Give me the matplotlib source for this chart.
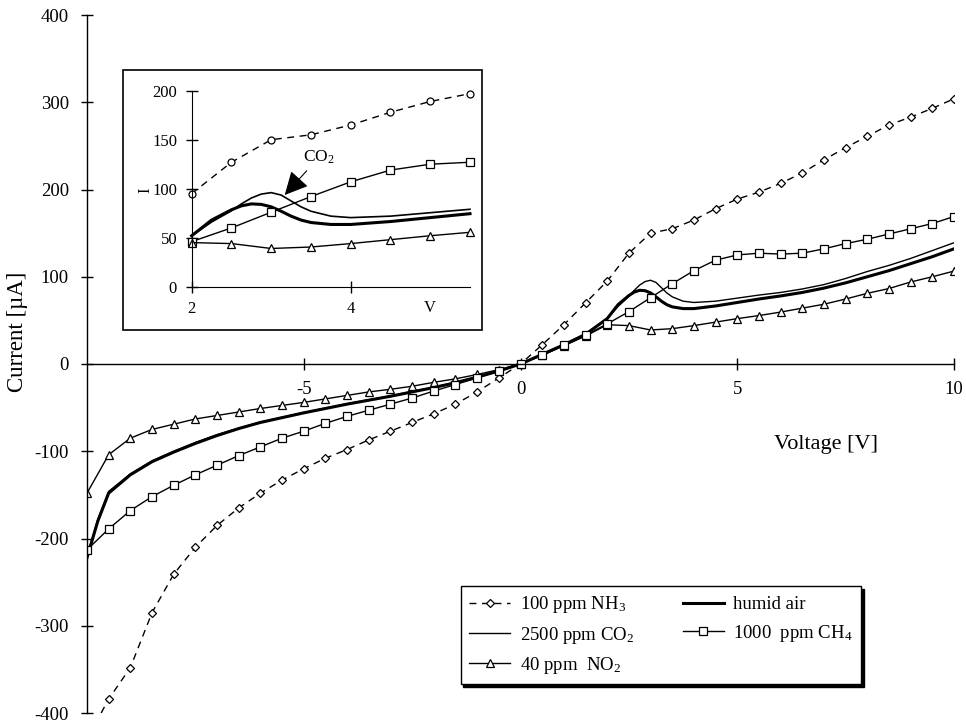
import matplotlib
matplotlib.use("Agg")
import matplotlib.pyplot as plt
from matplotlib.patches import Rectangle

plt.rcParams['font.family'] = ['Liberation Serif', 'DejaVu Serif']
plt.rcParams['mathtext.fontset'] = 'custom'
plt.rcParams['mathtext.rm'] = 'Liberation Serif'
plt.rcParams['mathtext.it'] = 'Liberation Serif:italic'
plt.rcParams['axes.unicode_minus'] = False

# ---------------- data ----------------
V = [-10, -9.5, -9, -8.5, -8, -7.5, -7, -6.5, -6, -5.5, -5, -4.5, -4, -3.5, -3, -2.5, -2, -1.5, -1, -0.5,
     0, 0.5, 1, 1.5, 2, 2.5, 3, 3.5, 4, 4.5, 5, 5.5, 6, 6.5, 7, 7.5, 8, 8.5, 9, 9.5, 10]

nh3 = [-430, -384, -348, -285, -241, -210, -185, -165, -148, -133, -120, -108, -98, -87, -77, -67, -57, -46, -32, -16,
       0, 22, 45, 70, 95, 127, 150, 155, 165, 178, 189, 197, 207, 219, 234, 248, 261, 274, 283, 293, 304]

ch4 = [-213, -189, -168, -152, -139, -127, -116, -105, -95, -85, -77, -68, -60, -53, -46, -39, -31, -23.5, -16, -8,
       0, 10, 21.5, 33, 46, 60, 76, 92, 107, 119, 125, 127, 126, 127, 132, 138, 143, 149, 155, 161, 169]

no2 = [-148, -104, -85, -75, -69, -63, -59, -55, -51, -47.5, -44, -40, -36, -32, -29, -25.5, -21, -17, -12, -6.5,
       0, 10, 21, 32, 45, 44, 39, 40.5, 44, 48, 52, 55.5, 59.5, 64, 68.5, 74.5, 81, 86.5, 94, 100, 106.5]

Vs = [-10, -9.75, -9.5, -9, -8.5, -8, -7.5, -7, -6.5, -6, -5.5, -5, -4.5, -4, -3.5, -3, -2.5, -2, -1.5, -1,
      -0.5, 0, 0.5, 1, 1.5, 2,
      2.25, 2.5, 2.625, 2.75, 2.875, 3, 3.125, 3.25, 3.375, 3.5,
      3.75, 4, 4.5, 5, 5.5, 6, 6.5, 7,
      7.5, 8, 8.5, 9, 9.5, 10]

humid = [-222, -180, -148, -127, -112, -101, -91, -82, -74, -67, -61.5, -56, -51, -46, -41.5, -37, -32, -27, -21.5, -15,
         -8, 0, 11, 22, 34, 52,
         68, 78.5, 82.5, 84.5, 84, 81.5, 77, 72, 68, 65.5,
         63.5, 63.5, 66.5, 70.5, 74.5, 78, 82, 87,
         93, 100, 107, 115, 123, 132]

co2 = [-220, -178, -146, -126, -111, -100, -90, -81, -73.5, -66.5, -61, -55.5, -50.5, -45.5, -41, -36.5, -31.5, -26.5, -21, -15,
       -8, 0, 11.5, 22.5, 34.5, 52,
       66, 77.5, 84.5, 90.5, 94.5, 96, 93.5, 87.5, 81.5, 77,
       72, 70.5, 72, 75.5, 79, 82, 86, 91,
       98, 106, 113, 121, 130, 139]

labels = {
    'nh3': '100 ppm NH$_3$',
    'humid': 'humid air',
    'co2': '2500 ppm CO$_2$',
    'ch4': '1000  ppm CH$_4$',
    'no2': '40 ppm  NO$_2$',
}

main_xticks = [-5, 0, 5, 10]
main_yticks = [-400, -300, -200, -100, 0, 100, 200, 300, 400]
inset_xticks = [2, 4]
inset_yticks = [0, 50, 100, 150, 200]

# ---------------- figure ----------------
W, H = 966, 723
fig = plt.figure(figsize=(W / 100, H / 100), dpi=100)
fig.patch.set_facecolor('white')

ax = fig.add_axes([87 / W, 10 / H, 867 / W, 698 / H])
ax.set_xlim(-10, 10)
ax.set_ylim(-400, 400)
ax.spines['top'].set_visible(False)
ax.spines['right'].set_visible(False)
ax.spines['bottom'].set_position(('data', 0))
for s in ('left', 'bottom'):
    ax.spines[s].set_linewidth(1.0)
ax.set_xticks(main_xticks)
ax.set_xticklabels([str(t) for t in main_xticks])
ax.set_yticks(main_yticks)
ax.tick_params(axis='both', direction='inout', length=8, width=1.0, labelsize=13.5)
ax.tick_params(axis='x', pad=8)
ax.tick_params(axis='y', pad=9)

lc = 'black'
l_nh3, = ax.plot(V, nh3, color=lc, lw=1.0, ls=(0, (5, 4)), marker='D', ms=3.8,
                 mfc='white', mec=lc, mew=0.9, label=labels['nh3'])
l_co2, = ax.plot(Vs, co2, color=lc, lw=1.0, label=labels['co2'])
l_no2, = ax.plot(V, no2, color=lc, lw=1.0, marker='^', ms=6, mfc='white', mec=lc, mew=0.9,
                 label=labels['no2'])
l_hum, = ax.plot(Vs, humid, color=lc, lw=2.2, label=labels['humid'])
l_ch4, = ax.plot(V, ch4, color=lc, lw=1.0, marker='s', ms=6, mfc='white', mec=lc, mew=0.9,
                 label=labels['ch4'])

fig.text(826 / W, 1 - 444 / H, 'Voltage [V]', ha='center', va='center', fontsize=16)
fig.text(18 / W, 1 - 332 / H, 'Current [µA]', ha='center', va='center', fontsize=16.5, rotation=90)

leg = ax.legend(handles=[l_nh3, l_co2, l_no2, l_hum, l_ch4], ncol=2, loc='lower left',
                bbox_to_anchor=(0.431, 0.041), frameon=True, fancybox=False,
                shadow={'color': 'black', 'alpha': 1.0}, fontsize=13.5, handlelength=2.2,
                handletextpad=0.5, columnspacing=2.6, labelspacing=0.5, borderpad=0.45,
                borderaxespad=0)
leg.get_frame().set_edgecolor('black')
leg.get_frame().set_linewidth(1.0)

# ---------------- inset ----------------
fig.patches.append(Rectangle((123 / W, 1 - 330 / H), (482 - 123) / W, (330 - 70) / H,
                             transform=fig.transFigure, fill=True, fc='white', ec='black', lw=1.2,
                             zorder=2))

axi = fig.add_axes([191.7 / W, 1 - 286.7 / H, (470 - 191.7) / W, (286.7 - 90.7) / H], zorder=3)
axi.set_facecolor('none')
axi.set_xlim(2, 5.5)
axi.set_ylim(0, 200)
axi.spines['top'].set_visible(False)
axi.spines['right'].set_visible(False)
axi.set_xticks(inset_xticks)
axi.set_yticks(inset_yticks)
axi.tick_params(axis='both', direction='inout', length=9, width=1.0, labelsize=12)
axi.tick_params(axis='x', pad=6)
axi.tick_params(axis='y', pad=6)


def sl(xs, ys, lo=2, hi=5.5):
    pts = [(x, y) for x, y in zip(xs, ys) if lo <= x <= hi]
    return [p[0] for p in pts], [p[1] for p in pts]


x_, y_ = sl(V, nh3)
axi.plot(x_, y_, color=lc, lw=1.0, ls=(0, (5, 4)), marker='o', ms=5, mfc='white', mec=lc, mew=0.9, clip_on=False)
x_, y_ = sl(Vs, co2)
axi.plot(x_, y_, color=lc, lw=1.2, clip_on=False)
x_, y_ = sl(Vs, humid)
axi.plot(x_, y_, color=lc, lw=2.2, clip_on=False)
x_, y_ = sl(V, ch4)
axi.plot(x_, y_, color=lc, lw=1.0, marker='s', ms=5.5, mfc='white', mec=lc, mew=0.9, clip_on=False)
x_, y_ = sl(V, no2)
axi.plot(x_, y_, color=lc, lw=1.0, marker='^', ms=5.5, mfc='white', mec=lc, mew=0.9, clip_on=False)

axi.text(5.0, -22, 'V', ha='center', va='center', fontsize=12)
fig.text(145 / W, 1 - 190 / H, 'I', ha='center', va='center', fontsize=12, rotation=90)

axi.annotate('CO$_2$', xy=(3.17, 93.6), xytext=(3.6, 132), ha='center', va='center', fontsize=12.5,
             arrowprops=dict(arrowstyle='-|>', mutation_scale=36, color='black', lw=0.8,
                             shrinkA=2, shrinkB=0))

fig.savefig('out.png', dpi=100)
